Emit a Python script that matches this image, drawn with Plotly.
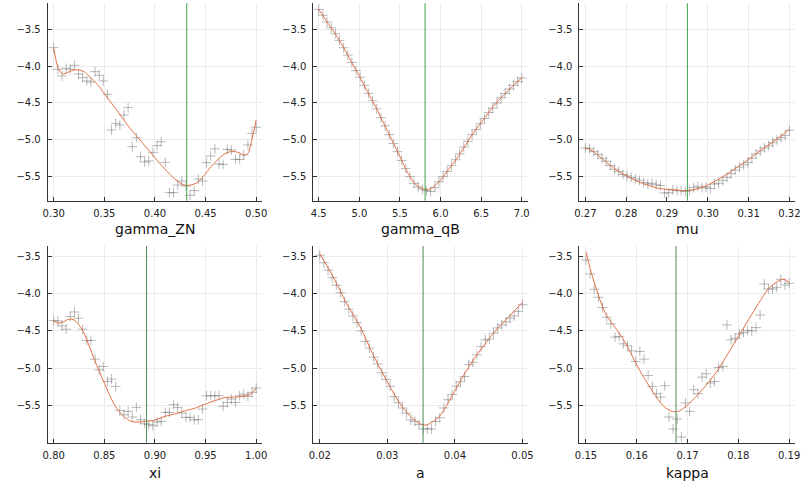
import numpy as np
import plotly.graph_objects as go

# ---------------- data ----------------
names = ["gamma_ZN", "gamma_qB", "mu", "xi", "a", "kappa"]

# sample grids (50 evenly spaced evaluations per parameter)
gzn_x = np.linspace(0.30, 0.50, 50)
gzn_y = [-3.749, -4.043, -4.133, -4.029, -4.043, -3.989, -4.106, -4.156, -4.201, -4.215,
         -4.075, -4.124, -4.201, -4.382, -4.866, -4.776, -4.799, -4.663, -4.563, -5.093,
         -4.971, -5.229, -5.301, -5.287, -5.170, -5.079, -5.025, -5.305, -5.717, -5.717,
         -5.613, -5.559, -5.627, -5.753, -5.690, -5.532, -5.559, -5.310, -5.219, -5.124,
         -5.328, -5.333, -5.129, -5.138, -5.265, -5.265, -5.206, -5.070, -4.912, -4.830]
gzn_cx = [0.300, 0.3039, 0.3072, 0.3098, 0.3153, 0.320, 0.325, 0.330, 0.3348, 0.3397,
          0.3462, 0.3527, 0.3592, 0.3657, 0.3754, 0.3852, 0.395, 0.4047, 0.4145, 0.4242,
          0.4307, 0.4356, 0.4405, 0.4454, 0.4502, 0.4567, 0.4633, 0.4698, 0.4746, 0.4795,
          0.4844, 0.4886, 0.4919, 0.4941, 0.4964, 0.4984, 0.500]
gzn_cy = [-3.758, -4.007, -4.088, -4.106, -4.075, -4.052, -4.052, -4.075, -4.133, -4.197,
          -4.300, -4.423, -4.540, -4.663, -4.844, -5.002, -5.161, -5.319, -5.464, -5.581,
          -5.618, -5.613, -5.590, -5.536, -5.455, -5.342, -5.251, -5.183, -5.161, -5.161,
          -5.183, -5.206, -5.183, -5.093, -4.957, -4.844, -4.731]
gzn_v = 0.4314

gqb_x = np.linspace(4.5, 7.0, 50)
gqb_y = [-3.23, -3.31, -3.40, -3.48, -3.56, -3.65, -3.75, -3.85, -3.95, -4.06,
         -4.15, -4.26, -4.37, -4.47, -4.58, -4.70, -4.81, -4.93, -5.05, -5.16,
         -5.28, -5.39, -5.50, -5.59, -5.64, -5.67, -5.69, -5.70, -5.65, -5.57,
         -5.50, -5.43, -5.35, -5.27, -5.19, -5.10, -5.02, -4.93, -4.86, -4.78,
         -4.71, -4.63, -4.57, -4.50, -4.43, -4.37, -4.31, -4.26, -4.21, -4.16]
gqb_cx = [4.5, 4.6, 4.7, 4.8, 4.9, 5.0, 5.1, 5.2, 5.3, 5.4, 5.5, 5.6, 5.7, 5.8, 5.85,
          5.9, 6.0, 6.1, 6.2, 6.3, 6.4, 6.5, 6.6, 6.7, 6.8, 6.9, 7.0]
gqb_cy = [-3.229, -3.396, -3.554, -3.735, -3.939, -4.133, -4.346, -4.550, -4.776, -5.002,
          -5.229, -5.455, -5.613, -5.672, -5.675, -5.649, -5.545, -5.400, -5.251, -5.084,
          -4.912, -4.767, -4.618, -4.482, -4.369, -4.256, -4.160]
gqb_v = 5.809

mu_x = np.linspace(0.27, 0.32, 50)
mu_y = [-5.11, -5.12, -5.16, -5.20, -5.25, -5.29, -5.35, -5.40, -5.43, -5.47,
        -5.49, -5.51, -5.53, -5.55, -5.58, -5.60, -5.59, -5.61, -5.62, -5.72,
        -5.72, -5.68, -5.69, -5.69, -5.70, -5.69, -5.65, -5.63, -5.65, -5.64,
        -5.66, -5.60, -5.59, -5.55, -5.51, -5.46, -5.41, -5.37, -5.34, -5.31,
        -5.25, -5.19, -5.15, -5.11, -5.08, -5.04, -5.00, -4.97, -4.94, -4.87]
mu_cx = [0.270, 0.272, 0.274, 0.276, 0.278, 0.280, 0.282, 0.284, 0.286, 0.288, 0.290,
         0.292, 0.294, 0.296, 0.298, 0.300, 0.302, 0.304, 0.306, 0.308, 0.310, 0.312,
         0.314, 0.316, 0.318, 0.320]
mu_cy = [-5.106, -5.160, -5.251, -5.342, -5.423, -5.486, -5.545, -5.590, -5.627, -5.658,
         -5.672, -5.680, -5.690, -5.680, -5.658, -5.613, -5.554, -5.490, -5.418, -5.342,
         -5.265, -5.183, -5.106, -5.025, -4.948, -4.857]
mu_v = 0.2950

xi_x = np.linspace(0.80, 1.00, 50)
xi_y = [-4.362, -4.367, -4.433, -4.478, -4.309, -4.247, -4.331, -4.478, -4.629, -4.629,
        -4.878, -5.020, -4.976, -5.176, -5.144, -5.242, -5.562, -5.620, -5.576, -5.651,
        -5.522, -5.687, -5.740, -5.753, -5.767, -5.718, -5.709, -5.589, -5.589, -5.487,
        -5.522, -5.598, -5.656, -5.656, -5.687, -5.687, -5.544, -5.367, -5.367, -5.367,
        -5.367, -5.509, -5.456, -5.411, -5.456, -5.367, -5.344, -5.376, -5.322, -5.264]
xi_cx = [0.800, 0.805, 0.810, 0.815, 0.820, 0.825, 0.830, 0.835, 0.840, 0.845, 0.850,
         0.855, 0.860, 0.865, 0.870, 0.875, 0.880, 0.890, 0.900, 0.910, 0.920, 0.930,
         0.940, 0.950, 0.960, 0.970, 0.980, 0.990, 0.995, 1.000]
xi_cy = [-4.367, -4.398, -4.376, -4.344, -4.353, -4.420, -4.531, -4.700, -4.878, -5.042,
         -5.198, -5.353, -5.487, -5.584, -5.651, -5.700, -5.718, -5.709, -5.691, -5.642,
         -5.607, -5.567, -5.531, -5.478, -5.429, -5.389, -5.384, -5.367, -5.340, -5.264]
xi_v = 0.8917

a_x = np.linspace(0.02, 0.05, 50)
a_y = [-3.49, -3.59, -3.69, -3.79, -3.89, -3.99, -4.11, -4.21, -4.30, -4.39,
       -4.50, -4.64, -4.73, -4.85, -4.94, -5.06, -5.15, -5.24, -5.38, -5.46,
       -5.53, -5.60, -5.69, -5.71, -5.75, -5.81, -5.81, -5.81, -5.71, -5.66,
       -5.53, -5.42, -5.35, -5.24, -5.18, -5.11, -4.95, -4.92, -4.82, -4.71,
       -4.62, -4.61, -4.53, -4.46, -4.42, -4.38, -4.33, -4.30, -4.24, -4.15]
a_cx = [0.020, 0.022, 0.024, 0.026, 0.028, 0.030, 0.032, 0.034, 0.0355, 0.037, 0.038,
        0.040, 0.042, 0.044, 0.046, 0.048, 0.050]
a_cy = [-3.47, -3.78, -4.14, -4.45, -4.84, -5.18, -5.49, -5.69, -5.76, -5.70, -5.61,
        -5.30, -4.99, -4.73, -4.50, -4.31, -4.12]
a_v = 0.03529

kap_x = np.linspace(0.15, 0.19, 50)
kap_y = [-3.553, -3.740, -3.944, -4.051, -4.189, -4.318, -4.407, -4.584, -4.576, -4.673,
         -4.700, -4.767, -4.909, -4.776, -4.878, -5.096, -5.242, -5.340, -5.384, -5.233,
         -5.651, -5.811, -5.678, -5.918, -5.464, -5.576, -5.287, -5.340, -5.118, -5.073,
         -5.198, -5.176, -4.989, -4.976, -4.420, -4.620, -4.598, -4.540, -4.522, -4.496,
         -4.500, -4.456, -4.287, -3.873, -3.940, -3.940, -3.918, -3.811, -3.887, -3.864]
kap_cx = [0.150, 0.151, 0.152, 0.153, 0.154, 0.155, 0.156, 0.157, 0.158, 0.159, 0.160,
          0.161, 0.162, 0.163, 0.164, 0.165, 0.166, 0.167, 0.168, 0.169, 0.170, 0.172,
          0.174, 0.176, 0.178, 0.180, 0.182, 0.184, 0.186, 0.188, 0.189, 0.190]
kap_cy = [-3.442, -3.709, -3.931, -4.131, -4.287, -4.389, -4.478, -4.576, -4.687, -4.820,
          -4.953, -5.078, -5.189, -5.296, -5.398, -5.487, -5.544, -5.576, -5.580, -5.544,
          -5.491, -5.353, -5.198, -5.020, -4.798, -4.576, -4.353, -4.131, -3.931, -3.829,
          -3.811, -3.855]
kap_v = 0.16773

y_ticks = [-3.5, -4.0, -4.5, -5.0, -5.5]
y_ticktext = ["\u22123.5", "\u22124.0", "\u22124.5", "\u22125.0", "\u22125.5"]
x_ticks = [
    [0.30, 0.35, 0.40, 0.45, 0.50],
    [4.5, 5.0, 5.5, 6.0, 6.5, 7.0],
    [0.27, 0.28, 0.29, 0.30, 0.31, 0.32],
    [0.80, 0.85, 0.90, 0.95, 1.00],
    [0.02, 0.03, 0.04, 0.05],
    [0.15, 0.16, 0.17, 0.18, 0.19],
]
x_ticktext = [
    ["0.30", "0.35", "0.40", "0.45", "0.50"],
    ["4.5", "5.0", "5.5", "6.0", "6.5", "7.0"],
    ["0.27", "0.28", "0.29", "0.30", "0.31", "0.32"],
    ["0.80", "0.85", "0.90", "0.95", "1.00"],
    ["0.02", "0.03", "0.04", "0.05"],
    ["0.15", "0.16", "0.17", "0.18", "0.19"],
]

# ---------------- layout / style ----------------
W, H = 804, 485
col_px = [(43.3, 260.7), (312.3, 530.0), (581.7, 800.0)]
row_px = [(3.3, 200.7), (246.0, 442.7)]
title_off = [28.5, 30.5]
x_ranges = [[0.2941, 0.5062], [4.4343, 7.0815], [0.26855, 0.32138],
            [0.7941, 1.0062], [0.01906, 0.05088], [0.14872, 0.19117]]
y_ranges = [[-5.826, -3.147], [-5.994, -3.366]]

panels = [
    (gzn_x, gzn_y, gzn_cx, gzn_cy, gzn_v),
    (gqb_x, gqb_y, gqb_cx, gqb_cy, gqb_v),
    (mu_x, mu_y, mu_cx, mu_cy, mu_v),
    (xi_x, xi_y, xi_cx, xi_cy, xi_v),
    (a_x, a_y, a_cx, a_cy, a_v),
    (kap_x, kap_y, kap_cx, kap_cy, kap_v),
]

FONT = "DejaVu Sans"
AX = "#333333"
GRID = "#ebebeb"
MARK = "rgba(100,100,100,0.45)"
LINE = "#E26F46"
VLINE = ["#3DA44E", "#3DA44E", "#3DA44E", "#4b8b55", "#4b8b55", "#4b8b55"]

fig = go.Figure()
annotations = []
shapes = []
for k, (px, py, cx, cy, v) in enumerate(panels):
    r, c = divmod(k, 3)
    sfx = "" if k == 0 else str(k + 1)
    fig.add_trace(go.Scatter(
        x=px, y=py, mode="markers", xaxis="x" + sfx, yaxis="y" + sfx,
        marker=dict(symbol="cross-thin", size=7, line=dict(width=1, color=MARK)),
        showlegend=False, hoverinfo="skip"))
    fig.add_trace(go.Scatter(
        x=cx, y=cy, mode="lines", xaxis="x" + sfx, yaxis="y" + sfx,
        line=dict(color=LINE, width=1, shape="spline", smoothing=0.8),
        showlegend=False, hoverinfo="skip"))
    shapes.append(dict(type="line", xref="x" + sfx, yref="y" + sfx + " domain",
                       x0=v, x1=v, y0=0, y1=1, line=dict(color=VLINE[k], width=1)))
    x0, x1 = col_px[c]
    y0, y1 = row_px[r]
    xd = [x0 / W, x1 / W]
    yd = [1 - y1 / H, 1 - y0 / H]
    common = dict(ticks="inside", ticklen=4, tickwidth=1, tickcolor=AX,
                  showline=True, linecolor=AX, linewidth=1, mirror=False,
                  showgrid=True, gridcolor=GRID, gridwidth=1, zeroline=False,
                  tickfont=dict(family=FONT, size=10, color="#222"))
    fig.layout["xaxis" + sfx] = dict(domain=xd, range=x_ranges[k], anchor="y" + sfx,
                                     tickvals=x_ticks[k], ticktext=x_ticktext[k],
                                     ticklabelstandoff=3, **common)
    fig.layout["yaxis" + sfx] = dict(domain=yd, range=y_ranges[r], anchor="x" + sfx,
                                     tickvals=y_ticks, ticktext=y_ticktext,
                                     ticklabelstandoff=4, **common)
    annotations.append(dict(text=names[k], xref="x" + sfx + " domain", x=0.5,
                            yref="paper", y=1 - (y1 + title_off[r]) / H, yanchor="middle",
                            xanchor="center", showarrow=False,
                            font=dict(family=FONT, size=14, color="#111")))

fig.update_layout(width=W, height=H, margin=dict(l=0, r=0, t=0, b=0),
                  paper_bgcolor="white", plot_bgcolor="white",
                  annotations=annotations, shapes=shapes,
                  font=dict(family=FONT))
fig.write_html("out.html",
               config={"displayModeBar": False},
               post_script="document.body.style.margin='0';"
                           "document.body.style.padding='0';"
                           "document.body.style.overflow='hidden';")
